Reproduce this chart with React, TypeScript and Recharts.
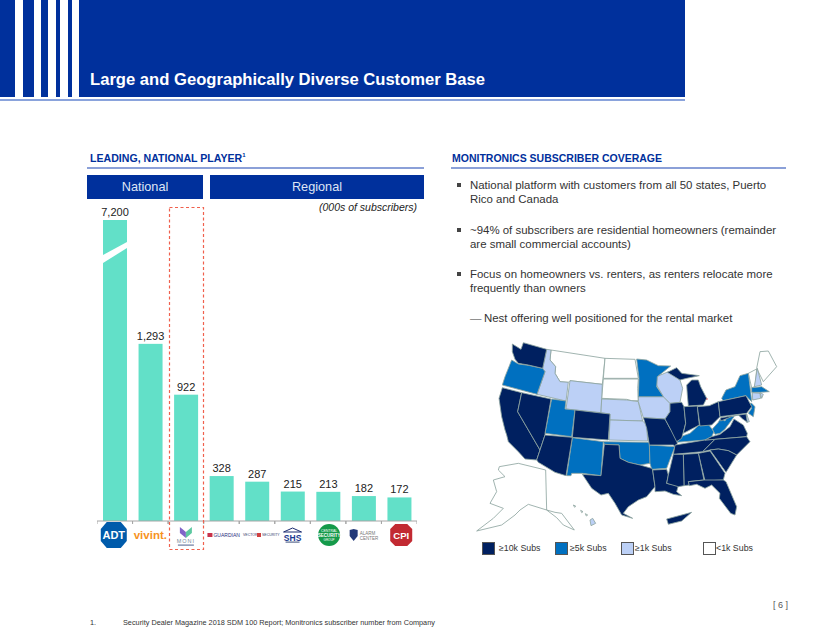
import { BarChart, Bar, XAxis, YAxis, LabelList } from "recharts";
import type { CSSProperties } from "react";

// =========================================
// Chart data
// =========================================

const companies = [
    "ADT",
    "Vivint",
    "Monitronics",
    "Guardian",
    "Vector Security",
    "SHS",
    "Central Security Group",
    "The Alarm Center",
    "CPI",
];
const subscribers = [7200, 1293, 922, 328, 287, 215, 213, 182, 172];
// the ADT bar is cut by the axis break, it stops at this value on the scale
const axisBreakCap = 2197;

const chartData = companies.map((name, i) => ({
    name,
    subscribers: subscribers[i],
    plotted: Math.min(subscribers[i], axisBreakCap),
}));

const bullets = [
    ["National platform with customers from all 50 states, Puerto", "Rico and Canada"],
    ["~94% of subscribers are residential homeowners (remainder", "are small commercial accounts)"],
    ["Focus on homeowners vs. renters, as renters relocate more", "frequently than owners"],
];

const mapLegend = [
    { label: "≥10k Subs", color: "#002060", x: 482, textX: 499 },
    { label: "≥5k Subs", color: "#0070c0", x: 555, textX: 570 },
    { label: "≥1k Subs", color: "#bcd0f6", x: 621, textX: 635 },
    { label: "<1k Subs", color: "#ffffff", x: 703, textX: 716 },
];

// =========================================
// Map outlines
// =========================================

const navyStates = [
    "157,27 183,43 190,23 260,43 248,100 205,90 175,85 165,73 157,50", // WA
    "127,158 185,173 173,230 240,345 230,375 195,372 175,350 145,320 140,300 135,285 125,245 117,190", // CA
    "185,173 273,192 255,295 255,300 240,345 173,230", // NV
    "255,300 337,307 318,422 285,412 235,382 230,375 240,345", // AZ
    "345,225 450,237 445,315 337,307", // CO
    "433,328 477,330 480,370 505,382 540,390 575,400 578,405 585,455 560,485 535,495 505,515 490,535 518,550 485,540 465,505 445,475 423,480 395,460 367,418 423,422", // TX
    "550,248 615,252 630,280 648,305 652,325 645,335 640,330 568,330 560,280", // MO
    "578,405 620,403 625,420 620,445 655,452 650,470 665,482 640,478 615,468 585,470 585,455", // LA
    "630,205 665,202 672,215 677,265 665,310 650,320 630,280 615,252 630,230", // IL
    "622,112 650,98 665,115 718,122 680,130 660,135", // MI upper
    "680,150 695,135 715,135 722,155 740,190 730,210 685,213 682,180", // MI lower
    "672,215 712,213 718,270 670,295 677,265", // IN
    "712,215 748,212 775,200 780,245 755,270 720,273", // OH
    "645,330 735,315 765,313 728,350 640,358", // TN
    "735,315 755,305 780,298 810,275 822,252 850,270 862,295 860,305 765,313", // VA
    "728,350 765,313 860,305 870,320 830,360 805,347 775,342 750,345", // NC
    "750,345 775,342 805,347 830,360 798,412", // SC
    "715,355 750,348 795,415 790,435 735,438", // GA
    "670,358 715,355 732,435 685,440 688,450 672,452", // AL
    "640,358 670,358 672,452 655,455 620,445 625,420", // MS
    "685,440 732,435 790,435 798,440 830,515 825,540 812,535 778,490 780,475 755,450 735,460 710,448 688,452", // FL
    "775,200 858,182 875,215 860,235 780,245", // PA
    "782,248 858,237 862,262 848,252 835,240 815,245 782,258", // MD
    "620,552 695,532 665,558 625,568", // PR
];

const midStates = [
    "155,75 175,87 205,91 248,100 255,110 231,178 127,150 135,125", // OR
    "275,192 318,198 315,222 345,225 335,305 255,295", // UT
    "337,308 430,320 423,422 367,415 335,415 333,422 320,422", // NM
    "430,320 568,322 570,385 540,390 505,382 480,370 477,330 433,328", // OK
    "568,330 645,335 635,360 620,400 575,403 570,385", // AR
    "530,72 560,75 595,92 632,93 592,125 590,155 610,185 535,185 537,130", // MN
    "650,322 670,302 690,295 715,272 745,268 762,290 755,305 735,315", // KY
    "757,282 775,262 782,250 795,258 803,243 822,245 810,262 795,282 780,295 765,298", // WV
    "785,190 798,165 825,155 840,122 865,115 872,170 875,200 858,182 790,197", // NY
    "868,205 875,205 885,215 880,245 865,235 875,220", // NJ
    "875,158 905,155 928,170 900,172 875,172", // MA
];

const lightStates = [
    "260,43 273,45 270,75 287,95 285,115 300,140 325,142 318,198 231,178 255,110 248,100", // ID
    "330,137 427,148 423,233 318,222", // WY
    "425,192 500,195 535,200 548,258 450,255 450,237 423,233", // NE
    "450,255 548,258 560,270 563,318 447,315", // KS
    "535,185 610,185 630,205 630,230 615,252 550,248 535,200", // IA
    "590,125 625,110 660,135 668,160 660,202 630,205 610,185 590,150", // WI
    "892,100 905,150 883,155", // NH
    "877,173 900,175 902,190 878,195", // CT
    "900,173 910,178 905,190", // RI
    "860,237 868,260 860,262", // DE
    "390,555 398,550 407,565 393,572", // HI
];

const whiteStates = [
    "273,45 435,70 427,148 330,137 325,142 300,140 285,115 287,95 270,75", // MT
    "435,70 525,73 535,130 430,130", // ND
    "430,132 535,132 533,160 535,197 515,197 500,193 425,190", // SD
    "865,115 890,102 885,155 875,158", // VT
    "900,50 925,48 950,95 910,140 890,100", // ME
    "115,405 118,395 175,385 257,405 260,525 285,532 305,535 343,585 310,570 290,548 260,525 205,508 180,525 165,540 125,570 50,588 100,550 130,520 90,505 110,470 100,435 135,425", // AK
    "340,510 347,513 344,517", // HI islands
    "362,526 369,530 365,533",
    "376,536 383,540 379,543",
];

// =========================================
// Custom marks
// =========================================

const plotHeight = 321;
const bandWidth = 320 / companies.length;

const BrokenBar = (props: any) => {
    const { x, y, width, height, index } = props;
    return (
        <g>
            <rect x={x} y={y} width={width} height={height} fill="#62e0c8" />
            {index === 0 && (
                <polygon
                    points={`${x},${y + 35} ${x + width},${y + 22} ${x + width},${y + 28} ${x},${y + 43}`}
                    fill="#ffffff"
                />
            )}
        </g>
    );
};

const tinyFont = "'Liberation Sans', Arial, sans-serif";

const CompanyLogo = ({ name }: { name: string }) => {
    // drawn around 0,0 = center of the logo
    switch (name) {
        case "ADT":
            return (
                <g transform="translate(-1,0)">
                    <polygon points="-7,-13 7,-13 13,-6 13,6 7,13 -7,13 -13,6 -13,-6" fill="#005bab" />
                    <text textAnchor="middle" y={4} fontSize={11} fontWeight="bold" fill="#fff" fontFamily={tinyFont}>ADT</text>
                </g>
            );
        case "Vivint":
            return <text textAnchor="middle" y={4} fontSize={11.5} fontWeight="bold" fill="#f7931e" fontFamily={tinyFont}>vivint.</text>;
        case "Monitronics":
            return (
                <g>
                    <polygon points="-6,-8 0,-3 0,3 -6,-2" fill="#8064c8" />
                    <polygon points="6,-8 0,-3 0,3 6,-2" fill="#5cc8a0" />
                    <text textAnchor="middle" y={8} fontSize={5.5} letterSpacing={1} fill="#7a8a9a" fontFamily={tinyFont}>MONI</text>
                    <rect x={-8} y={9.5} width={16} height={1.2} fill="#6a7aa0" />
                </g>
            );
        case "Guardian":
            return (
                <g>
                    <rect x={-14} y={-2} width={5} height={4} fill="#c8324a" />
                    <text x={-8} y={2} fontSize={5} fill="#2a2f80" fontFamily={tinyFont}>GUARDIAN</text>
                </g>
            );
        case "Vector Security":
            return (
                <g>
                    <text x={-14} y={1} fontSize={3.5} fill="#34406e" fontFamily={tinyFont}>VECTOR</text>
                    <rect x={0} y={-2} width={4} height={4} fill="#d04040" />
                    <text x={5} y={1} fontSize={3.5} fill="#34406e" fontFamily={tinyFont}>SECURITY</text>
                </g>
            );
        case "SHS":
            return (
                <g>
                    <polygon points="-9,-3 0,-7 9,-3" fill="none" stroke="#1a2a70" strokeWidth={1} />
                    <text textAnchor="middle" y={5.5} fontSize={8.5} fontWeight="bold" fill="#1a3a90" fontFamily={tinyFont}>SHS</text>
                    <rect x={-7} y={6.5} width={14} height={1.2} fill="#5a6a90" />
                </g>
            );
        case "Central Security Group":
            return (
                <g transform="translate(1,0)">
                    <circle r={11} fill="#159a4a" />
                    <text textAnchor="middle" y={-3} fontSize={3.5} fill="#fff" fontFamily={tinyFont}>CENTRAL</text>
                    <text textAnchor="middle" y={2} fontSize={4.5} fontWeight="bold" fill="#fff" fontFamily={tinyFont}>SECURITY</text>
                    <text textAnchor="middle" y={6} fontSize={3} fill="#fff" fontFamily={tinyFont}>GROUP</text>
                </g>
            );
        case "The Alarm Center":
            return (
                <g>
                    <polygon points="-14,-5 -10,-6 -6,-5 -6,1 -10,6 -14,1" fill="#243a78" />
                    <text x={-4} y={-0.5} fontSize={4.5} fill="#777" fontFamily={tinyFont}>ALARM</text>
                    <text x={-4} y={4.5} fontSize={4.5} fill="#777" fontFamily={tinyFont}>CENTER</text>
                </g>
            );
        default:
            return (
                <g transform="translate(2,0)">
                    <polygon points="-6,-11 6,-11 11,-6 11,6 6,11 -6,11 -11,6 -11,-6" fill="#c22a32" />
                    <text textAnchor="middle" y={3.5} fontSize={9.5} fontWeight="bold" fill="#fff" fontFamily={tinyFont}>CPI</text>
                </g>
            );
    }
};

const LogoTick = (props: any) => {
    const { x, payload } = props;
    return (
        <g>
            <line x1={x - bandWidth / 2} x2={x - bandWidth / 2} y1={plotHeight} y2={plotHeight + 3} stroke="#a6a6a6" />
            <line x1={x + bandWidth / 2} x2={x + bandWidth / 2} y1={plotHeight} y2={plotHeight + 3} stroke="#a6a6a6" />
            <g transform={`translate(${x},${plotHeight + 14})`}>
                <CompanyLogo name={payload.value} />
            </g>
        </g>
    );
};

function SubscribersChart() {
    return (
        <BarChart
            width={320}
            height={plotHeight + 30}
            data={chartData}
            margin={{ top: 0, right: 0, bottom: 0, left: 0 }}
        >
            <XAxis
                dataKey="name"
                interval={0}
                height={30}
                tickLine={false}
                axisLine={{ stroke: "#a6a6a6" }}
                tick={<LogoTick />}
            />
            <YAxis hide domain={[0, 2343]} />
            <Bar dataKey="plotted" barSize={24} shape={<BrokenBar />} isAnimationActive={false}>
                <LabelList
                    dataKey="subscribers"
                    position="top"
                    offset={4}
                    fontSize={11}
                    fill="#222222"
                    formatter={(v: any) => Number(v).toLocaleString("en-US")}
                />
            </Bar>
        </BarChart>
    );
}

// =========================================
// Page
// =========================================

const font = "'Liberation Sans', Arial, sans-serif";
const blue = "#00309c";

const abs = (left: number, top: number, extra: CSSProperties = {}): CSSProperties => ({
    position: "absolute",
    left,
    top,
    whiteSpace: "nowrap",
    ...extra,
});

const stripes = [
    [0, 15],
    [23, 11],
    [41, 7],
    [56, 4],
    [68, 4],
    [79, 606],
];

function UsMap() {
    const groups: [string[], string][] = [
        [whiteStates, "#ffffff"],
        [lightStates, "#bcd0f6"],
        [midStates, "#0070c0"],
        [navyStates, "#002060"],
    ];
    return (
        <svg style={abs(460, 335)} width={330} height={225} viewBox="0 0 990 675">
            {groups.map(([states, color]) =>
                states.map((pts, i) => (
                    <polygon key={color + i} points={pts} fill={color} stroke="#8ea5a0" strokeWidth={2.5} strokeLinejoin="round" />
                ))
            )}
            <circle cx={741} cy={192} r={2} fill="#e03030" />
        </svg>
    );
}

export default function App() {
    return (
        <div style={{ position: "absolute", left: 0, top: 0, width: 824, height: 637, background: "#fff", fontFamily: font, overflow: "hidden" }}>
            {/* Top banner */}
            {stripes.map(([x, w]) => (
                <div key={x} style={abs(x, 0, { width: w, height: 96.5, background: blue })} />
            ))}
            <div style={abs(0, 99, { width: 685, height: 2, background: "#8aa3dc" })} />
            <div style={abs(90, 70, { color: "#fff", fontWeight: "bold", fontSize: 16.63, lineHeight: "20px" })}>
                Large and Geographically Diverse Customer Base
            </div>

            {/* Left panel */}
            <div style={abs(90, 152, { color: blue, fontWeight: "bold", fontSize: 10.6, lineHeight: "13px" })}>
                LEADING, NATIONAL PLAYER<sup style={{ fontSize: 6, lineHeight: 0 }}>1</sup>
            </div>
            <div style={abs(87, 167, { width: 337, height: 2, background: "#8ba0d8" })} />
            <div style={abs(87, 175, { width: 116, height: 24, lineHeight: "24px", background: blue, color: "#dfe6f5", fontSize: 12.7, textAlign: "center" })}>
                National
            </div>
            <div style={abs(210, 175, { width: 214, height: 24, lineHeight: "24px", background: blue, color: "#dfe6f5", fontSize: 12.7, textAlign: "center" })}>
                Regional
            </div>
            <div style={abs(304, 201, { width: 113, textAlign: "right", fontStyle: "italic", fontSize: 10.5, lineHeight: "13px", color: "#222" })}>
                (000s of subscribers)
            </div>
            <div style={abs(97, 200)}>
                <SubscribersChart />
            </div>
            <svg style={abs(168, 206)} width={38} height={346}>
                <rect x={1.5} y={1.5} width={34} height={342} fill="none" stroke="#f0604d" strokeWidth={1.2} strokeDasharray="3 2.5" />
            </svg>

            {/* Right panel */}
            <div style={abs(452, 152, { color: blue, fontWeight: "bold", fontSize: 10.5, lineHeight: "13px" })}>
                MONITRONICS SUBSCRIBER COVERAGE
            </div>
            <div style={abs(451, 167, { width: 335, height: 2, background: "#8ba0d8" })} />
            {bullets.map((lines, i) => (
                <div key={i}>
                    <div style={abs(457, 183 + i * 44.5, { width: 4, height: 4, background: "#444" })} />
                    {lines.map((line, j) => (
                        <div key={j} style={abs(470, 178 + i * 44.5 + j * 14, { fontSize: 11.45, lineHeight: "14px", color: "#333" })}>
                            {line}
                        </div>
                    ))}
                </div>
            ))}
            <div style={abs(470, 311, { fontSize: 11.45, lineHeight: "14px", color: "#777" })}>—</div>
            <div style={abs(484, 311, { fontSize: 11.45, lineHeight: "14px", color: "#333" })}>
                Nest offering well positioned for the rental market
            </div>

            <UsMap />
            {mapLegend.map((item) => (
                <div key={item.label}>
                    <div style={abs(item.x, 542, { width: 11, height: 11, background: item.color, border: "1px solid #555" })} />
                    <div style={abs(item.textX, 542, { fontSize: 8.8, lineHeight: "12px", color: "#333" })}>{item.label}</div>
                </div>
            ))}

            {/* Footer */}
            <div style={abs(773, 600, { fontSize: 9, lineHeight: "11px", color: "#555" })}>[ 6 ]</div>
            <div style={abs(90, 618, { fontSize: 7.3, lineHeight: "10px", color: "#333" })}>1.</div>
            <div style={abs(123, 618, { fontSize: 7.3, lineHeight: "10px", color: "#333" })}>
                Security Dealer Magazine 2018 SDM 100 Report; Monitronics subscriber number from Company
            </div>
        </div>
    );
}
